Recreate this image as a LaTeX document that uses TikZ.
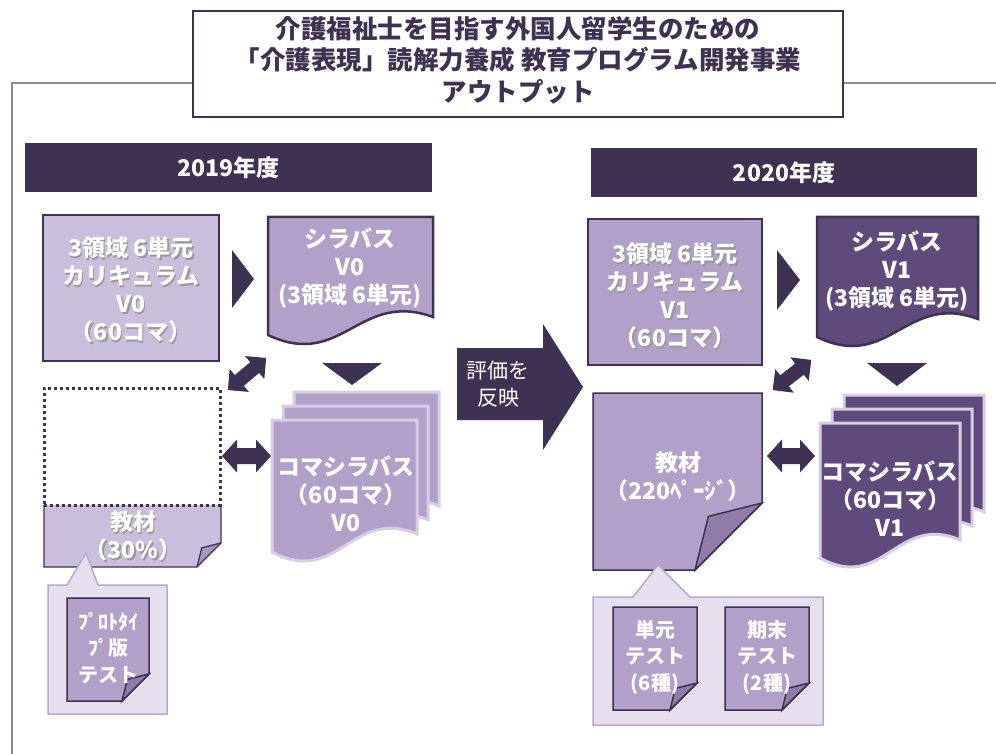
\documentclass[tikz,border=0pt]{standalone}
\usepackage{fontspec}
\setmainfont{Noto Sans CJK JP}
\usepackage{tikz}

\definecolor{deep}{HTML}{3F3152}
\definecolor{lilac}{HTML}{C9BFDD}
\definecolor{mauve}{HTML}{B1A0C8}
\definecolor{plum}{HTML}{5F4B7B}
\definecolor{mist}{HTML}{E5DFEE}
\definecolor{mistline}{HTML}{B8AACF}
\definecolor{flap}{HTML}{8F7DA9}
\definecolor{flaplight}{HTML}{A597BD}
\definecolor{sheetline}{HTML}{D7CEE5}
\definecolor{frameline}{HTML}{8C8C8C}

\tikzset{
    pics/wavedoc/.style n args={3}{code={
        \path[pic actions] (0,0) -- (#1,0) -- (#1,#2-#3) .. controls (0.55*#1,#2-#3-27) and (0.45*#1,#2+35) .. (0,#2) -- cycle;
    }},
    pics/folddoc/.style n args={4}{code={
        \path[pic actions] (0,0) -- (#1,0) -- (#1,#2-#3) -- (#1-#3,#2) -- (0,#2) -- cycle;
        \path[pic actions,fill=#4] (#1,#2-#3) -- (#1-0.8*#3,#2-0.8*#3) -- (#1-#3,#2) -- cycle;
    }},
    pics/twinarrow/.style n args={4}{code={
        \path[pic actions] (-#1/2,0) -- (-#1/2+#4,#2/2) -- (-#1/2+#4,#3/2) -- (#1/2-#4,#3/2) -- (#1/2-#4,#2/2) -- (#1/2,0)
            -- (#1/2-#4,-#2/2) -- (#1/2-#4,-#3/2) -- (-#1/2+#4,-#3/2) -- (-#1/2+#4,-#2/2) -- cycle;
    }},
    yearbar/.style={fill=deep, text=white, font=\fontsize{23}{27}\selectfont\bfseries, minimum height=49pt, inner sep=0pt},
    unitbox/.style={draw=deep, line width=1.3pt, inner sep=0pt},
    whitetxt/.style={text=white, align=center, font=\fontsize{23}{28}\selectfont\bfseries, inner sep=0pt},
    shadetxt/.style={whitetxt, text=black!40},
    smalltxt/.style={whitetxt, font=\fontsize{20}{26.5}\selectfont\bfseries},
    bubble/.style={fill=mist, draw=mistline, line width=1.5pt},
}

\begin{document}
\begin{tikzpicture}[x=1pt,y=-1pt]
    \useasboundingbox[fill=white] (0,0) rectangle (996,754);
    \coordinate (fl) at (12,754);
    \coordinate (fr) at (996,83);
    \draw[frameline, line width=1.5pt] (fl) |- (fr);
    \node[draw=deep, line width=2.4pt, fill=white, minimum width=650pt, minimum height=106pt, inner sep=0pt] (title) at (518,64) {};
    \node[text=deep, align=center, font=\fontsize{25.5}{31.5}\selectfont\bfseries, inner sep=0pt] (titletxt) at (518,60)
        {介護福祉士を目指す外国人留学生のための\\「介護表現」読解力養成 教育プログラム開発事業\\アウトプット};

    \node[yearbar, minimum width=407pt] (y19) at (228.5,167.5) {2019年度};
    \node[yearbar, minimum width=386pt] (y20) at (784,172.5) {2020年度};

    \node[unitbox, fill=lilac, minimum width=176pt, minimum height=146pt] (cur0) at (131,288) {};
    \node[shadetxt] (cur0s) at (132.5,291.5) {3領域 6単元\\カリキュラム\\V0\\（60コマ）};
    \node[whitetxt] (cur0t) at (131,290) {3領域 6単元\\カリキュラム\\V0\\（60コマ）};
    \fill[deep] (232,250) -- (254,279) -- (232,308) -- cycle;
    \pic[fill=mauve, draw=deep, line width=2.5pt] (syl0) at (268,217) {wavedoc={165}{118}{18}};
    \node[whitetxt] (syl0t) at (350,268) {シラバス\\V0\\(3領域 6単元)};
    \fill[deep] (322,363) -- (382,363) -- (352,385) -- cycle;
    \pic[fill=deep, rotate=40] at (247,374) {twinarrow={50}{30}{14}{15}};

    \pic[fill=lilac] (mat0) at (44,505) {folddoc={177}{62}{24}{flaplight}};
    \draw[deep, line width=1.3pt] (44,505) |- (197,567) -- (221,543) -- (221,505);
    \draw[deep, line width=1.3pt] (221,543) -- (201.8,547.8) -- (197,567);
    \node[draw=deep, line width=3pt, dash pattern=on 3pt off 3pt, minimum width=176pt, minimum height=117pt, inner sep=0pt] (blank) at (132,446.5) {};
    \node[shadetxt] (mat0s) at (134.5,537.5) {教材\\（30\%）};
    \node[whitetxt] (mat0t) at (133,536) {教材\\（30\%）};
    \pic[fill=deep] at (246.5,456) {twinarrow={49}{33}{16}{15}};
    \foreach \dx/\dy in {22/-28, 11/-14, 0/0}
        \pic[fill=mauve, draw=sheetline, line width=3pt] at (272+\dx,420+\dy) {wavedoc={145}{132}{18}};
    \node[whitetxt] (koma0t) at (346,494) {コマシラバス\\（60コマ）\\V0};

    \path[bubble] (48,585) -- (67,585) -- (86,553) -- (98,585) -- (167,585) -- (167,714) -- (48,714) -- cycle;
    \pic[fill=mauve, draw=deep, line width=1.5pt] (proto) at (67,598) {folddoc={82}{103}{27}{flap}};
    \node[smalltxt] (protot) at (108,648) {ﾌﾟﾛﾄﾀｲ\\ﾌﾟ版\\テスト};

    \fill[deep] (457,348) -- (543,348) -- (543,324) -- (583,387) -- (543,450) -- (543,420) -- (457,420) -- cycle;
    \node[text=white, align=center, font=\fontsize{21}{27}\selectfont, inner sep=0pt] (eval) at (498,384) {評価を\\反映};

    \node[unitbox, fill=mauve, minimum width=174pt, minimum height=146pt] (cur1) at (675,292) {};
    \node[shadetxt] (cur1s) at (676.5,297.5) {3領域 6単元\\カリキュラム\\V1\\（60コマ）};
    \node[whitetxt] (cur1t) at (675,296) {3領域 6単元\\カリキュラム\\V1\\（60コマ）};
    \fill[deep] (777,250) -- (800,280) -- (777,310) -- cycle;
    \pic[fill=plum, draw=deep, line width=2.5pt] (syl1) at (817,217) {wavedoc={161}{120}{18}};
    \node[whitetxt] (syl1t) at (897,271) {シラバス\\V1\\(3領域 6単元)};
    \fill[deep] (867,363) -- (927,363) -- (897,386) -- cycle;
    \pic[fill=deep, rotate=38] at (792,375) {twinarrow={49}{30}{14}{15}};

    \pic[fill=mauve, draw=deep, line width=1.5pt] (mat1) at (593,393) {folddoc={169}{177}{67}{flap}};
    \node[whitetxt] (mat1t) at (678,477) {教材\\（220ﾍﾟｰｼﾞ）};
    \pic[fill=deep] at (791,456) {twinarrow={48}{33}{16}{15}};
    \foreach \dx/\dy in {24/-28, 12/-14, 0/0}
        \pic[fill=plum, draw=sheetline, line width=3pt] at (820+\dx,423+\dy) {wavedoc={140}{135}{18}};
    \node[whitetxt] (koma1t) at (890,499) {コマシラバス\\（60コマ）\\V1};

    \path[bubble] (593,597) -- (633,597) -- (658,565) -- (690,597) -- (823,597) -- (823,725) -- (593,725) -- cycle;
    \pic[fill=mauve, draw=deep, line width=1.5pt] (unit) at (613,607) {folddoc={84}{103}{27}{flap}};
    \pic[fill=mauve, draw=deep, line width=1.5pt] (term) at (725,607) {folddoc={84}{103}{27}{flap}};
    \node[smalltxt] (unitt) at (655,657) {単元\\テスト\\(6種)};
    \node[smalltxt] (termt) at (767,657) {期末\\テスト\\(2種)};
\end{tikzpicture}
\end{document}
